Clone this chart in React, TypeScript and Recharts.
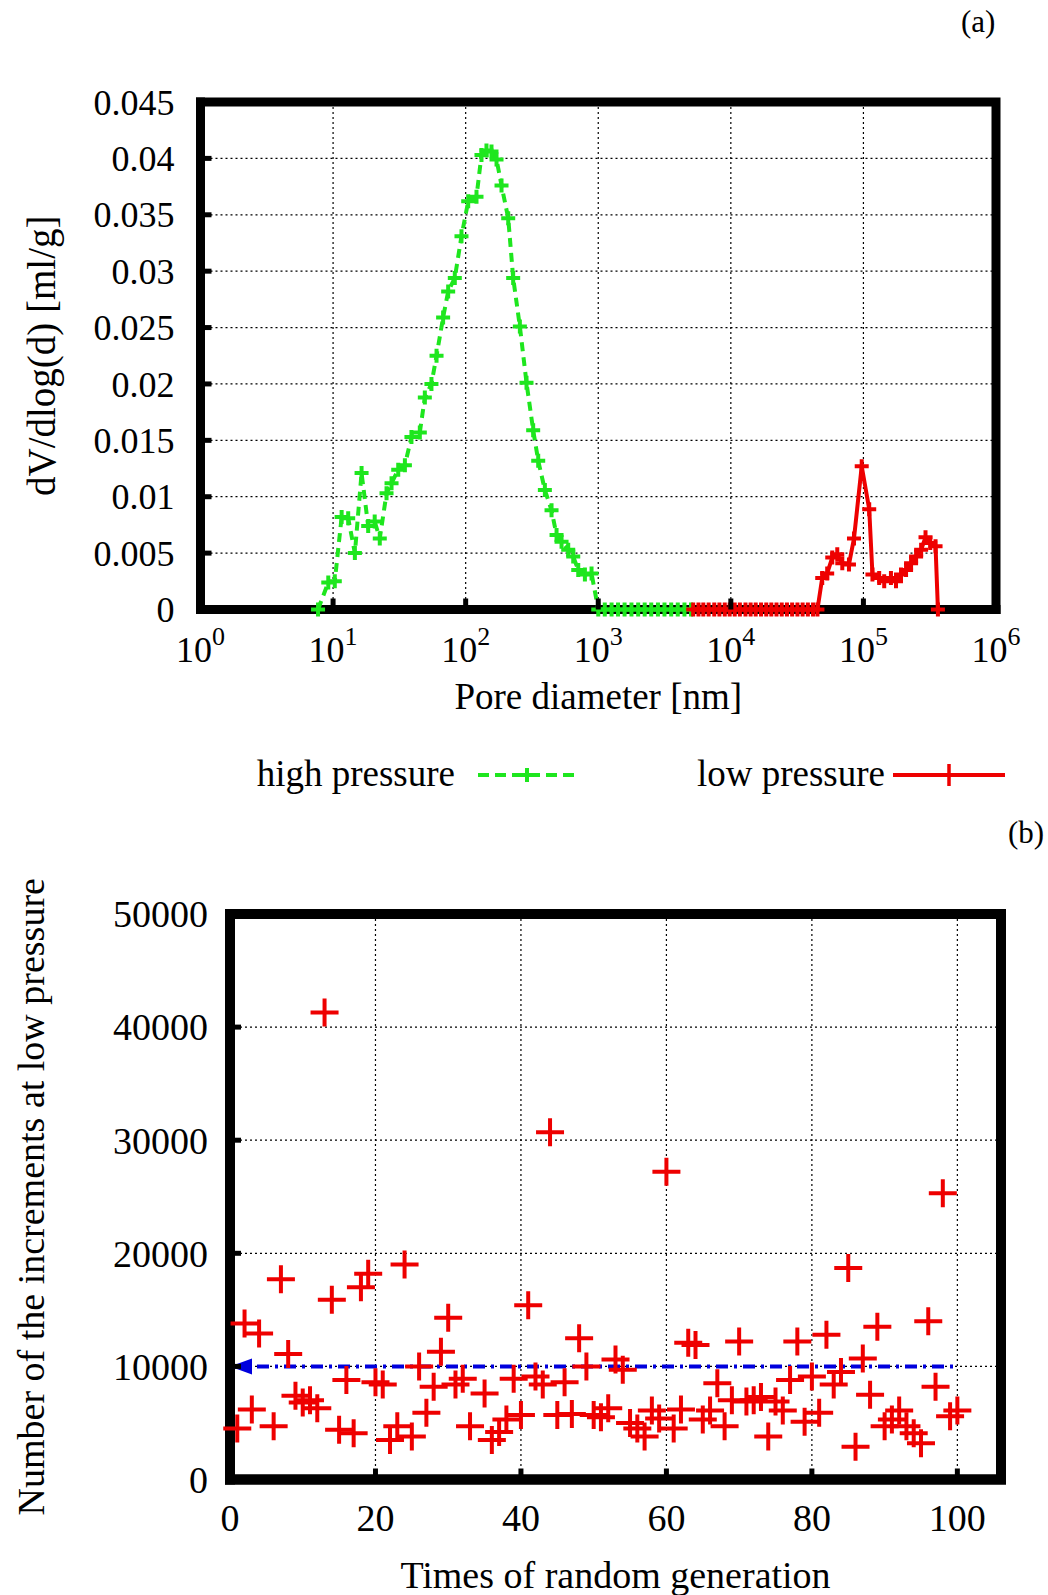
import React from "react";
import { ScatterChart, Scatter, XAxis, YAxis, CartesianGrid, Legend, ReferenceArea } from "recharts";

const FONT = "'Liberation Serif', 'Times New Roman', serif";
const GREEN = "#1ee61e";
const RED = "#ee0000";
const BLUE = "#0000dd";

// (a) pore size distribution
const highPressureDiameter = [
  7.7, 9.2, 10.3, 11.6, 13.0, 14.6, 16.4, 18.4, 20.6, 22.5, 25.3, 27.6, 31.0, 34.8, 39.0,
  45.1, 49.2, 55.2, 60.3, 67.6, 73.8, 82.8, 93.0, 104.5, 120.7, 131.6, 143.5, 156.6, 170.9,
  186.4, 209.4, 228.2, 256.3, 287.7, 323.0, 352.5, 395.7, 444.3, 484.7, 528.7, 593.6, 647.6,
  706.4, 793, 890, 1000, 1120, 1260, 1410, 1580, 1780, 2000, 2240, 2510, 2820, 3160, 3550,
  3980, 4470, 5010,
];
const highPressureVolume = [
  0, 0.0024, 0.0025, 0.0082, 0.0081, 0.005, 0.0121, 0.0074, 0.0078, 0.0063, 0.0103, 0.0112,
  0.0124, 0.0128, 0.0153, 0.0157, 0.0188, 0.02, 0.0225, 0.0259, 0.0282, 0.0294, 0.0331,
  0.0362, 0.0366, 0.0403, 0.0407, 0.0406, 0.0399, 0.0376, 0.0347, 0.0294, 0.0251, 0.0201,
  0.0159, 0.0132, 0.0106, 0.0088, 0.0066, 0.006, 0.0053, 0.0047, 0.0035, 0.0031, 0.0032,
  0, 0, 0, 0, 0, 0, 0, 0, 0, 0, 0, 0, 0, 0, 0,
];
const lowPressureDiameter = [
  5200, 5700, 6200, 6800, 7500, 8200, 9000, 9800, 10700, 11700, 12900, 14100, 15400, 16900,
  18500, 20200, 22100, 24200, 26500, 29000, 31800, 34800, 38100, 41700, 45000, 48900, 53300,
  58200, 63500, 69300, 77800, 84900, 97100, 110600, 117000, 131500, 143500, 161300, 176100,
  192100, 209700, 228800, 249700, 272500, 294000, 319000, 350000, 364700,
];
const lowPressureVolume = [
  0, 0, 0, 0, 0, 0, 0, 0, 0, 0, 0, 0, 0, 0, 0, 0, 0, 0, 0, 0, 0, 0, 0, 0, 0, 0.0028, 0.0032,
  0.0046, 0.0049, 0.0041, 0.004, 0.0063, 0.0127, 0.0089, 0.0031, 0.0028, 0.0025, 0.0028,
  0.0025, 0.0031, 0.0035, 0.0041, 0.0047, 0.0053, 0.0064, 0.0059, 0.0056, 0,
];
const decadeTicks = [1, 10, 100, 1000, 10000, 100000, 1000000];
const volumeTicks = [0, 0.005, 0.01, 0.015, 0.02, 0.025, 0.03, 0.035, 0.04, 0.045];

// (b) increments at low pressure per random generation
const generationTimes = [
  1, 2, 3, 4, 6, 7, 8, 9, 10, 11, 12, 13, 14, 15, 16, 17, 18, 19, 20, 21, 22, 23, 24, 25, 26,
  27, 28, 29, 30, 31, 32, 33, 35, 36, 37, 38, 39, 40, 41, 42, 43, 44, 45, 46, 47, 48, 49, 50,
  51, 52, 53, 54, 55, 56, 57, 58, 59, 60, 61, 62, 63, 64, 65, 66, 67, 68, 69, 70, 71, 72, 73,
  74, 75, 76, 77, 78, 79, 80, 81, 82, 83, 84, 85, 86, 87, 88, 89, 90, 91, 92, 93, 94, 95, 96,
  97, 98, 99, 100,
];
const incrementCounts = [
  4500, 13800, 6200, 12900, 4700, 17700, 11100, 7400, 6800, 7000, 6300, 41300, 15900, 4400,
  8800, 4100, 17000, 18200, 8600, 8400, 3500, 4700, 19000, 3800, 10000, 5900, 8200, 11300,
  14300, 8400, 8900, 4700, 7600, 3500, 4200, 5300, 8900, 5700, 15400, 9100, 8400, 30700, 5700,
  8600, 5800, 12500, 10000, 5700, 5500, 6300, 10600, 9700, 5000, 4500, 3800, 6100, 5400, 27200,
  4500, 6200, 12100, 11900, 5300, 6100, 8500, 4700, 7000, 12200, 6900, 7000, 7300, 3800, 6900,
  6100, 8800, 12200, 5100, 9100, 5900, 12800, 8400, 9500, 18700, 2900, 10700, 7500, 13500,
  4700, 5300, 6100, 4700, 4100, 3200, 14000, 8200, 25300, 5600, 6100,
];
const averageTimes = [0, 100];
const averageCounts = [10000, 10000];
const timeTicks = [0, 20, 40, 60, 80, 100];
const countTicks = [0, 10000, 20000, 30000, 40000, 50000];

const highData = highPressureDiameter.map((d, i) => ({ d, v: highPressureVolume[i] }));
const lowData = lowPressureDiameter.map((d, i) => ({ d, v: lowPressureVolume[i] }));
const countData = generationTimes.map((t, i) => ({ t, n: incrementCounts[i] }));
const averageData = averageTimes.map((t, i) => ({ t, n: averageCounts[i] }));

const plus = (size: number, color: string, width: number) => (props: any) => {
  const { cx, cy } = props;
  if (cx == null || cy == null) return <g />;
  const h = size / 2;
  return (
    <path
      d={`M${cx - h},${cy}H${cx + h}M${cx},${cy - h}V${cy + h}`}
      stroke={color}
      strokeWidth={width}
      fill="none"
    />
  );
};

const arrowHead = (props: any) => {
  const { cx, cy, payload } = props;
  if (cx == null || payload.t !== 0) return <g />;
  return <path d={`M${cx},${cy}L${cx + 22},${cy - 8}L${cx + 22},${cy + 8}Z`} fill={BLUE} />;
};

const TICK_W = 5;
const TICK_LEN = 11;

const LogTick = (props: any) => {
  const { x, y, payload } = props;
  const exp = Math.round(Math.log10(payload.value));
  return (
    <g>
      <line x1={x} y1={y} x2={x} y2={y - TICK_LEN} stroke="#000" strokeWidth={TICK_W} />
      <text x={x} y={y + 52} textAnchor="middle" fontFamily={FONT} fontSize={36} fill="#000">
        10
        <tspan dy={-17} fontSize={26}>
          {exp}
        </tspan>
      </text>
    </g>
  );
};

const makeNumTick = (gap: number, size: number) => (props: any) => {
  const { x, y, payload } = props;
  return (
    <g>
      <line x1={x} y1={y} x2={x} y2={y - TICK_LEN} stroke="#000" strokeWidth={TICK_W} />
      <text x={x} y={y + gap} textAnchor="middle" fontFamily={FONT} fontSize={size} fill="#000">
        {payload.value}
      </text>
    </g>
  );
};

const makeLeftTick = (gap: number, size: number) => (props: any) => {
  const { x, y, payload } = props;
  return (
    <g>
      <line x1={x} y1={y} x2={x + TICK_LEN} y2={y} stroke="#000" strokeWidth={TICK_W} />
      <text x={x - gap} y={y} dy="0.35em" textAnchor="end" fontFamily={FONT} fontSize={size} fill="#000">
        {payload.value}
      </text>
    </g>
  );
};

const TopTick = (props: any) => (
  <line x1={props.x} y1={props.y} x2={props.x} y2={props.y + TICK_LEN} stroke="#000" strokeWidth={TICK_W} />
);
const RightTick = (props: any) => (
  <line x1={props.x} y1={props.y} x2={props.x - TICK_LEN} y2={props.y} stroke="#000" strokeWidth={TICK_W} />
);

const frameLine = (w: number) => ({ stroke: "#000", strokeWidth: w, strokeLinecap: "square" as const });

const xLabel = (text: string, dy: number, size: number) => (p: any) => {
  const vb = p.viewBox;
  return (
    <text x={vb.x + vb.width / 2} y={vb.y + dy} textAnchor="middle" fontFamily={FONT} fontSize={size} fill="#000">
      {text}
    </text>
  );
};

const yLabel = (text: string, cx: number, size: number) => (p: any) => {
  const vb = p.viewBox;
  const cy = vb.y + vb.height / 2;
  return (
    <text
      x={cx}
      y={cy}
      transform={`rotate(-90, ${cx}, ${cy})`}
      textAnchor="middle"
      dominantBaseline="central"
      fontFamily={FONT}
      fontSize={size}
      fill="#000"
    >
      {text}
    </text>
  );
};

const PressureLegend = () => (
  <svg width={1048} height={50} style={{ display: "block" }}>
    <text x={455} y={36} textAnchor="end" fontFamily={FONT} fontSize={37} fill="#000">
      high pressure
    </text>
    <line x1={478} y1={25} x2={577} y2={25} stroke={GREEN} strokeWidth={4} strokeDasharray="11 6" />
    {plus(14, GREEN, 4)({ cx: 527, cy: 25 })}
    <text x={885} y={36} textAnchor="end" fontFamily={FONT} fontSize={37} fill="#000">
      low pressure
    </text>
    <line x1={893} y1={25} x2={1005} y2={25} stroke={RED} strokeWidth={4} />
    {plus(22, RED, 3.5)({ cx: 949, cy: 25 })}
  </svg>
);

function PoreChart() {
  return (
    <ScatterChart width={1048} height={800} margin={{ top: 101, right: 51, bottom: 80.5, left: 0 }}>
      <CartesianGrid stroke="#000" strokeWidth={1.2} strokeDasharray="2 3" />
      <Scatter
        name="high pressure"
        data={highData}
        line={{ stroke: GREEN, strokeWidth: 4, strokeDasharray: "9 6" }}
        lineType="joint"
        shape={plus(14, GREEN, 4)}
        isAnimationActive={false}
      />
      <Scatter
        name="low pressure"
        data={lowData}
        line={{ stroke: RED, strokeWidth: 4 }}
        lineType="joint"
        shape={plus(14, RED, 4)}
        isAnimationActive={false}
      />
      <ReferenceArea
        x1={1}
        x2={1000000}
        y1={0}
        y2={0.045}
        ifOverflow="visible"
        fill="none"
        fillOpacity={0}
        stroke="#000"
        strokeWidth={9}
      />
      <XAxis
        type="number"
        dataKey="d"
        scale="log"
        domain={[1, 1000000]}
        ticks={decadeTicks}
        interval={0}
        height={110}
        axisLine={frameLine(9)}
        tickLine={false}
        tickSize={0}
        tickMargin={0}
        tick={LogTick}
        label={{ content: xLabel("Pore diameter [nm]", 99, 37) }}
      />
      <XAxis
        xAxisId="top"
        orientation="top"
        type="number"
        scale="log"
        domain={[1, 1000000]}
        ticks={decadeTicks}
        interval={0}
        height={1}
        axisLine={false}
        tickLine={false}
        tickSize={0}
        tickMargin={0}
        tick={TopTick}
      />
      <YAxis
        type="number"
        dataKey="v"
        domain={[0, 0.045]}
        ticks={volumeTicks}
        interval={0}
        width={200.5}
        axisLine={frameLine(9)}
        tickLine={false}
        tickSize={0}
        tickMargin={0}
        tick={makeLeftTick(26, 36)}
        label={{ content: yLabel("dV/dlog(d) [ml/g]", 41, 39) }}
      />
      <YAxis
        yAxisId="right"
        orientation="right"
        type="number"
        domain={[0, 0.045]}
        ticks={volumeTicks}
        interval={0}
        width={1}
        axisLine={false}
        tickLine={false}
        tickSize={0}
        tickMargin={0}
        tick={RightTick}
      />
      <Legend
        layout="horizontal"
        verticalAlign="middle"
        align="center"
        wrapperStyle={{ top: 750, left: 0, width: 1048, height: 50 }}
        content={() => <PressureLegend />}
      />
    </ScatterChart>
  );
}

function IncrementChart() {
  return (
    <ScatterChart width={1048} height={795} margin={{ top: 113, right: 46, bottom: 35.5, left: 0 }}>
      <CartesianGrid stroke="#000" strokeWidth={1.2} strokeDasharray="2 3" />
      <Scatter
        data={averageData}
        line={{ stroke: BLUE, strokeWidth: 4, strokeDasharray: "12 6 3 6" }}
        lineType="joint"
        shape={arrowHead}
        isAnimationActive={false}
      />
      <Scatter data={countData} shape={plus(28, RED, 4)} isAnimationActive={false} />
      <ReferenceArea
        x1={0}
        x2={106}
        y1={0}
        y2={50000}
        ifOverflow="visible"
        fill="none"
        fillOpacity={0}
        stroke="#000"
        strokeWidth={10}
      />
      <XAxis
        type="number"
        dataKey="t"
        domain={[0, 106]}
        ticks={timeTicks}
        interval={0}
        height={80}
        axisLine={frameLine(10)}
        tickLine={false}
        tickSize={0}
        tickMargin={0}
        tick={makeNumTick(51, 38)}
        label={{ content: xLabel("Times of random generation", 108, 38) }}
      />
      <XAxis
        xAxisId="top"
        orientation="top"
        type="number"
        domain={[0, 106]}
        ticks={timeTicks}
        interval={0}
        height={1}
        axisLine={false}
        tickLine={false}
        tickSize={0}
        tickMargin={0}
        tick={TopTick}
      />
      <YAxis
        type="number"
        dataKey="n"
        domain={[0, 50000]}
        ticks={countTicks}
        interval={0}
        width={230}
        axisLine={frameLine(10)}
        tickLine={false}
        tickSize={0}
        tickMargin={0}
        tick={makeLeftTick(22, 38)}
        label={{ content: yLabel("Number of the increments at low pressure", 31, 38) }}
      />
      <YAxis
        yAxisId="right"
        orientation="right"
        type="number"
        domain={[0, 50000]}
        ticks={countTicks}
        interval={0}
        width={1}
        axisLine={false}
        tickLine={false}
        tickSize={0}
        tickMargin={0}
        tick={RightTick}
      />
    </ScatterChart>
  );
}

export default function App() {
  return (
    <div style={{ position: "relative", width: 1048, height: 1595, background: "#fff", overflow: "hidden" }}>
      <style>{"body{margin:0}"}</style>
      <div style={{ position: "absolute", left: 0, top: 0 }}>
        <PoreChart />
      </div>
      <div style={{ position: "absolute", left: 0, top: 800 }}>
        <IncrementChart />
      </div>
      <div style={{ position: "absolute", left: 961, top: 4, fontFamily: FONT, fontSize: 31, lineHeight: "36px" }}>
        (a)
      </div>
      <div style={{ position: "absolute", left: 1008, top: 815, fontFamily: FONT, fontSize: 31, lineHeight: "36px" }}>
        (b)
      </div>
    </div>
  );
}
